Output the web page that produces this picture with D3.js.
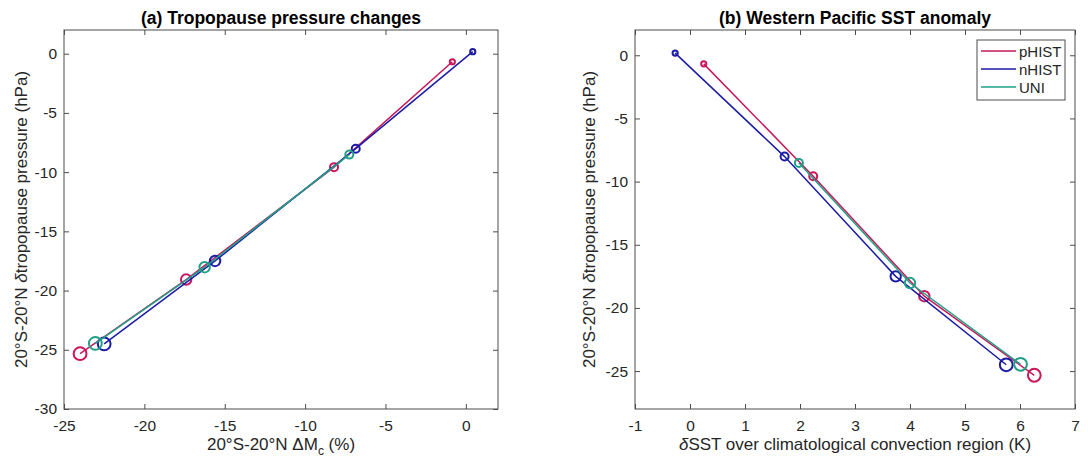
<!DOCTYPE html>
<meta charset="utf-8">
<style>
    * { margin: 0px; }
    body { background: #fff; }
    text { font-family: "Liberation Sans", Arial, sans-serif; fill: #262626; }
    .title { font-weight: bold; font-size: 17.5px; fill: #000; }
    .tick text { font-size: 15.5px; }
    .lab { font-size: 17px; }
</style>
<svg width="1088" height="459"></svg>
<script src="https://d3js.org/d3.v7.min.js"></script>
<script>
    // series names and colours
    var names = ["pHIST", "nHIST", "UNI"];
    var colors = ["#c8175a", "#1b1ba6", "#21a087"];

    // 20S-20N tropopause pressure change (hPa)
    var pHIST_dP = [-0.68, -9.58, -19.07, -25.33];
    var nHIST_dP = [0.17, -8.02, -17.5, -24.5];
    var UNI_dP = [null, -8.52, -18.03, -24.46];

    // 20S-20N convective mass flux change (%)
    var pHIST_dMc = [-0.84, -8.2, -17.4, -24.0];
    var nHIST_dMc = [0.43, -6.85, -15.6, -22.5];
    var UNI_dMc = [null, -7.25, -16.25, -23.05];

    // SST anomaly over convection region (K)
    var pHIST_dSST = [0.25, 2.24, 4.26, 6.26];
    var nHIST_dSST = [-0.27, 1.72, 3.74, 5.75];
    var UNI_dSST = [null, 1.98, 4.0, 6.01];

    var xTicksA = [-25, -20, -15, -10, -5, 0];
    var yTicksA = [-30, -25, -20, -15, -10, -5, 0];
    var xTicksB = [-1, 0, 1, 2, 3, 4, 5, 6, 7];
    var yTicksB = [-25, -20, -15, -10, -5, 0];

    var markerR = [2.6, 4, 5.2, 6.4];

    var svg = d3.select("svg");
    var fmt = function(d) { return String(d); };

    function drawPanel(opt) {
        var x = d3.scaleLinear().domain(opt.xdom).range([opt.left, opt.right]);
        var y = d3.scaleLinear().domain(opt.ydom).range([opt.bottom, opt.top]);
        var g = svg.append("g");

        g.append("g").attr("transform", "translate(0," + opt.bottom + ")")
            .call(d3.axisBottom(x).tickValues(opt.xticks).tickFormat(fmt).tickSizeInner(-5).tickSizeOuter(0).tickPadding(11));
        g.append("g").attr("transform", "translate(0," + opt.top + ")")
            .call(d3.axisTop(x).tickValues(opt.xticks).tickSizeInner(-5).tickSizeOuter(0).tickFormat(""));
        g.append("g").attr("transform", "translate(" + opt.left + ",0)")
            .call(d3.axisLeft(y).tickValues(opt.yticks).tickFormat(fmt).tickSizeInner(-5).tickSizeOuter(0).tickPadding(7));
        g.append("g").attr("transform", "translate(" + opt.right + ",0)")
            .call(d3.axisRight(y).tickValues(opt.yticks).tickSizeInner(-5).tickSizeOuter(0).tickFormat(""));
        g.selectAll(".domain").remove();
        g.selectAll(".tick line").attr("stroke", "#4d4d4d");
        g.selectAll(".tick text").attr("fill", "#262626").attr("font-family", null).attr("font-size", null);

        g.append("rect")
            .attr("x", opt.left).attr("y", opt.top)
            .attr("width", opt.right - opt.left).attr("height", opt.bottom - opt.top)
            .attr("fill", "none").attr("stroke", "#4d4d4d").attr("stroke-width", 1);

        opt.xs.forEach(function(xs, k) {
            var pts = xs.map(function(v, i) { return {x: v, y: opt.ys[k][i], i: i}; })
                .filter(function(d) { return d.x != null; });
            g.append("path").datum(pts)
                .attr("fill", "none").attr("stroke", colors[k]).attr("stroke-width", 1.5)
                .attr("d", d3.line().x(function(d) { return x(d.x); }).y(function(d) { return y(d.y); }));
            g.selectAll(null).data(pts).enter().append("circle")
                .attr("cx", function(d) { return x(d.x); })
                .attr("cy", function(d) { return y(d.y); })
                .attr("r", function(d) { return markerR[d.i]; })
                .attr("fill", "none").attr("stroke", colors[k]).attr("stroke-width", 2);
        });

        svg.append("text").attr("class", "title")
            .attr("x", (opt.left + opt.right) / 2).attr("y", 24)
            .attr("text-anchor", "middle").text(opt.title);

        var cy = (opt.top + opt.bottom) / 2;
        svg.append("text").attr("class", "lab")
            .attr("transform", "translate(" + opt.ylabX + "," + cy + ") rotate(-90)")
            .attr("text-anchor", "middle")
            .call(function(t) {
                t.append("tspan").text("20°S-20°N ");
                t.append("tspan").attr("font-style", "italic").text("δ");
                t.append("tspan").text("tropopause pressure (hPa)");
            });

        var xl = svg.append("text").attr("class", "lab")
            .attr("x", (opt.left + opt.right) / 2).attr("y", 450)
            .attr("text-anchor", "middle");
        opt.xlabel(xl);
        return {x: x, y: y};
    }

    drawPanel({
        left: 64, right: 498, top: 30, bottom: 409,
        xdom: [-25, 2], ydom: [-30, 2],
        xticks: xTicksA, yticks: yTicksA,
        xs: [pHIST_dMc, nHIST_dMc, UNI_dMc],
        ys: [pHIST_dP, nHIST_dP, UNI_dP],
        title: "(a) Tropopause pressure changes",
        ylabX: 27,
        xlabel: function(t) {
            t.append("tspan").text("20°S-20°N ΔM");
            t.append("tspan").attr("dy", 5).attr("font-size", 12).text("c");
            t.append("tspan").attr("dy", -5).text(" (%)");
        }
    });

    drawPanel({
        left: 635, right: 1075, top: 30, bottom: 409,
        xdom: [-1, 7], ydom: [-28, 2],
        xticks: xTicksB, yticks: yTicksB,
        xs: [pHIST_dSST, nHIST_dSST, UNI_dSST],
        ys: [pHIST_dP, nHIST_dP, UNI_dP],
        title: "(b) Western Pacific SST anomaly",
        ylabX: 595,
        xlabel: function(t) {
            t.append("tspan").attr("font-style", "italic").text("δ");
            t.append("tspan").text("SST over climatological convection region (K)");
        }
    });

    // legend
    var lg = svg.append("g").attr("transform", "translate(977,40)");
    lg.append("rect").attr("width", 88).attr("height", 60)
        .attr("fill", "#fff").attr("stroke", "#4d4d4d").attr("stroke-width", 1);
    names.forEach(function(n, k) {
        var yy = 11 + k * 18;
        lg.append("line").attr("x1", 4).attr("x2", 39).attr("y1", yy).attr("y2", yy)
            .attr("stroke", colors[k]).attr("stroke-width", 1.5);
        lg.append("text").attr("x", 42).attr("y", yy + 5.5)
            .attr("font-size", 15).attr("fill", "#000").text(n);
    });
</script>
